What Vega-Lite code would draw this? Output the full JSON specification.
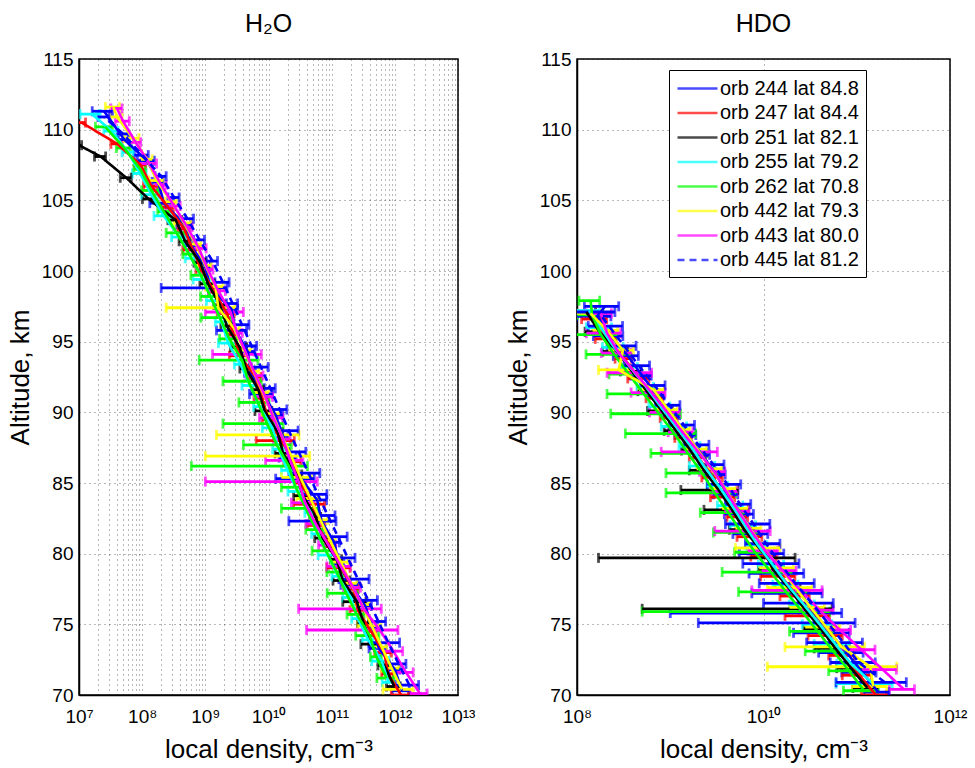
{
 "$schema": "https://vega.github.io/schema/vega-lite/v6.json",
 "background": "white",
 "padding": {"left": 6, "top": 11, "right": 5, "bottom": 0},
 "config": {
  "font": "Liberation Sans",
  "view": {"stroke": "black", "strokeWidth": 1.5},
  "axis": {"labelFont": "Liberation Sans", "labelFontSize": 19, "labelColor": "black", "titleFont": "Liberation Sans", "titleFontSize": 26, "titleFontWeight": "normal", "titleColor": "black", "domainColor": "black", "domainWidth": 1.5, "tickColor": "black", "gridColor": "black", "gridDash": [1, 4], "gridOpacity": 0.55, "labelOverlap": false, "labelFlush": false},
  "title": {"font": "Liberation Sans", "fontSize": 25, "fontWeight": "normal", "color": "black"},
  "concat": {"spacing": 28}
 },
 "datasets": {
  "h2o": [
   {"o":244,"a":70.3,"v":1.3e12,"e":3.9e11},{"o":244,"a":71.8,"v":1.0e12,"e":2.0e11},{"o":244,"a":73.3,"v":5.6e11,"e":1.7e11},{"o":244,"a":74.8,"v":4.4e11,"e":9e10},{"o":244,"a":76.3,"v":3.4e11,"e":8.5e10},{"o":244,"a":77.8,"v":2.0e11,"e":6e10},{"o":244,"a":79.3,"v":1.3e11,"e":2.6e10},{"o":244,"a":80.8,"v":1.1e11,"e":2.2e10},{"o":244,"a":82.3,"v":6.9e10,"e":4.8e10},{"o":244,"a":83.8,"v":5.9e10,"e":2.4e10},{"o":244,"a":85.3,"v":3.3e10,"e":2.0e10},{"o":244,"a":86.8,"v":2.1e10,"e":6.3e9},{"o":244,"a":88.3,"v":1.7e10,"e":3.4e9},{"o":244,"a":89.8,"v":1.3e10,"e":3.9e9},{"o":244,"a":91.3,"v":8.3e9,"e":3.3e9},{"o":244,"a":92.8,"v":5.2e9,"e":1.0e9},{"o":244,"a":94.3,"v":4.7e9,"e":1.4e9},{"o":244,"a":95.8,"v":3.0e9,"e":1.5e9},{"o":244,"a":97.3,"v":2.6e9,"e":6.5e8},{"o":244,"a":98.8,"v":1.2e9,"e":1.0e9},{"o":244,"a":100.3,"v":1.0e9,"e":2e8},{"o":244,"a":101.8,"v":5.9e8,"e":1.2e8},{"o":244,"a":103.3,"v":4.7e8,"e":1.2e8},{"o":244,"a":104.8,"v":2.2e8,"e":8.8e7},{"o":244,"a":106.3,"v":1.8e8,"e":3.6e7},{"o":244,"a":107.8,"v":1.2e8,"e":3.6e7},{"o":244,"a":109.3,"v":5.2e7,"e":1.0e7},{"o":244,"a":111.3,"v":2.5e7,"e":8.8e6},
   {"o":247,"a":70.0,"v":1.26e12,"e":3.8e11},{"o":247,"a":71.5,"v":7.8e11,"e":1.6e11},{"o":247,"a":73.0,"v":6.8e11,"e":2.0e11},{"o":247,"a":74.5,"v":4.2e11,"e":8.4e10},{"o":247,"a":76.0,"v":2.6e11,"e":6.5e10},{"o":247,"a":77.5,"v":2.2e11,"e":4.4e10},{"o":247,"a":79.0,"v":1.4e11,"e":5.6e10},{"o":247,"a":80.5,"v":9.5e10,"e":1.9e10},{"o":247,"a":82.0,"v":5.9e10,"e":1.8e10},{"o":247,"a":83.5,"v":5.1e10,"e":2.6e10},{"o":247,"a":85.0,"v":3.2e10,"e":6.4e9},{"o":247,"a":86.5,"v":2.5e10,"e":7.5e9},{"o":247,"a":88.0,"v":1.6e10,"e":9.6e9},{"o":247,"a":89.5,"v":1.0e10,"e":2.0e9},{"o":247,"a":91.0,"v":7.9e9,"e":2.0e9},{"o":247,"a":92.5,"v":6.3e9,"e":1.3e9},{"o":247,"a":94.0,"v":3.5e9,"e":1.1e9},{"o":247,"a":95.5,"v":2.8e9,"e":5.6e8},{"o":247,"a":97.0,"v":2.2e9,"e":6.6e8},{"o":247,"a":98.5,"v":1.4e9,"e":2.8e8},{"o":247,"a":100.0,"v":8.9e8,"e":1.8e8},{"o":247,"a":101.5,"v":6.3e8,"e":1.9e8},{"o":247,"a":103.0,"v":4.6e8,"e":9.2e7},{"o":247,"a":104.5,"v":2.6e8,"e":5.2e7},{"o":247,"a":106.0,"v":1.4e8,"e":3.5e7},{"o":247,"a":107.5,"v":9.5e7,"e":1.9e7},{"o":247,"a":109.0,"v":4.0e7,"e":8e6},{"o":247,"a":110.5,"v":1.1e7,"e":1.7e6},
   {"o":251,"a":70.6,"v":9.8e11,"e":2.4e11},{"o":251,"a":72.1,"v":6.8e11,"e":1.4e11},{"o":251,"a":73.6,"v":4.1e11,"e":1.2e11},{"o":251,"a":75.1,"v":3.2e11,"e":6.4e10},{"o":251,"a":76.6,"v":2.5e11,"e":1.0e11},{"o":251,"a":78.1,"v":1.5e11,"e":4.5e10},{"o":251,"a":79.6,"v":1.2e11,"e":2.4e10},{"o":251,"a":81.1,"v":7.2e10,"e":1.8e10},{"o":251,"a":82.6,"v":5.6e10,"e":1.1e10},{"o":251,"a":84.1,"v":3.5e10,"e":1.0e10},{"o":251,"a":85.6,"v":2.8e10,"e":5.6e9},{"o":251,"a":87.1,"v":1.7e10,"e":4.3e9},{"o":251,"a":88.6,"v":1.4e10,"e":2.8e9},{"o":251,"a":90.1,"v":8.7e9,"e":2.6e9},{"o":251,"a":91.6,"v":6.9e9,"e":1.4e9},{"o":251,"a":93.1,"v":4.4e9,"e":8.8e8},{"o":251,"a":94.6,"v":3.5e9,"e":1.0e9},{"o":251,"a":96.1,"v":2.2e9,"e":4.4e8},{"o":251,"a":97.6,"v":1.7e9,"e":3.4e8},{"o":251,"a":99.1,"v":1.1e9,"e":2.8e8},{"o":251,"a":100.6,"v":8.3e8,"e":1.7e8},{"o":251,"a":102.1,"v":4.8e8,"e":9.6e7},{"o":251,"a":103.6,"v":3.4e8,"e":8.5e7},{"o":251,"a":105.1,"v":1.26e8,"e":2.5e7},{"o":251,"a":106.6,"v":5.6e7,"e":1.1e7},{"o":251,"a":108.1,"v":2.2e7,"e":4.4e6},{"o":251,"a":108.9,"v":1.0e7,"e":1.0e6},
   {"o":255,"a":70.9,"v":7.9e11,"e":1.6e11},{"o":255,"a":72.4,"v":6.2e11,"e":1.9e11},{"o":255,"a":73.9,"v":3.8e11,"e":7.6e10},{"o":255,"a":75.4,"v":2.6e11,"e":5.2e10},{"o":255,"a":76.9,"v":2.0e11,"e":5.0e10},{"o":255,"a":78.4,"v":1.26e11,"e":2.5e10},{"o":255,"a":79.9,"v":8.7e10,"e":2.6e10},{"o":255,"a":81.4,"v":6.0e10,"e":1.2e10},{"o":255,"a":82.9,"v":4.7e10,"e":9.4e9},{"o":255,"a":84.4,"v":2.9e10,"e":8.7e9},{"o":255,"a":85.9,"v":2.0e10,"e":4.0e9},{"o":255,"a":87.4,"v":1.45e10,"e":2.9e9},{"o":255,"a":88.9,"v":1.15e10,"e":3.5e9},{"o":255,"a":90.4,"v":7.2e9,"e":1.4e9},{"o":255,"a":91.9,"v":5.1e9,"e":1.3e9},{"o":255,"a":93.4,"v":3.6e9,"e":7.2e8},{"o":255,"a":94.9,"v":2.3e9,"e":6.9e8},{"o":255,"a":96.4,"v":1.8e9,"e":3.6e8},{"o":255,"a":97.9,"v":1.3e9,"e":2.6e8},{"o":255,"a":99.4,"v":9.1e8,"e":2.7e8},{"o":255,"a":100.9,"v":6.0e8,"e":1.2e8},{"o":255,"a":102.4,"v":3.9e8,"e":9.8e7},{"o":255,"a":103.9,"v":2.2e8,"e":6.6e7},{"o":255,"a":105.4,"v":1.4e8,"e":4.2e7},{"o":255,"a":106.9,"v":9.3e7,"e":2.3e7},{"o":255,"a":108.4,"v":6.0e7,"e":1.2e7},{"o":255,"a":109.9,"v":3.3e7,"e":8.3e6},{"o":255,"a":111.1,"v":1.6e7,"e":5.6e6},
   {"o":262,"a":71.2,"v":7.4e11,"e":2.2e11},{"o":262,"a":72.7,"v":5.1e11,"e":1.0e11},{"o":262,"a":74.2,"v":4.0e11,"e":1.6e11},{"o":262,"a":75.7,"v":2.5e11,"e":7.5e10},{"o":262,"a":77.2,"v":1.7e11,"e":8.5e10},{"o":262,"a":78.7,"v":1.2e11,"e":3.6e10},{"o":262,"a":80.2,"v":8.1e10,"e":3.2e10},{"o":262,"a":81.7,"v":5.6e10,"e":1.7e10},{"o":262,"a":83.2,"v":3.9e10,"e":2.3e10},{"o":262,"a":84.7,"v":2.7e10,"e":1.1e10},{"o":262,"a":86.2,"v":2.1e10,"e":2.04e10},{"o":262,"a":87.7,"v":1.35e10,"e":9.5e9},{"o":262,"a":89.2,"v":9.5e9,"e":7.6e9},{"o":262,"a":90.7,"v":6.8e9,"e":3.4e9},{"o":262,"a":92.2,"v":4.8e9,"e":2.9e9},{"o":262,"a":93.7,"v":3.8e9,"e":3.0e9},{"o":262,"a":95.2,"v":2.4e9,"e":7.2e8},{"o":262,"a":96.7,"v":1.7e9,"e":8.5e8},{"o":262,"a":98.2,"v":1.2e9,"e":3.6e8},{"o":262,"a":99.7,"v":8.5e8,"e":2.6e8},{"o":262,"a":101.2,"v":5.5e8,"e":1.1e8},{"o":262,"a":102.7,"v":3.5e8,"e":1.1e8},{"o":262,"a":104.2,"v":2.2e8,"e":4.4e7},{"o":262,"a":105.7,"v":1.4e8,"e":4.2e7},{"o":262,"a":107.2,"v":9.3e7,"e":1.9e7},{"o":262,"a":108.7,"v":5.2e7,"e":1.3e7},{"o":262,"a":110.2,"v":2.6e7,"e":7.8e6},
   {"o":442,"a":70.4,"v":1.3e12,"e":6.5e11},{"o":442,"a":71.9,"v":8.9e11,"e":2.7e11},{"o":442,"a":73.4,"v":6.2e11,"e":1.2e11},{"o":442,"a":74.9,"v":4.3e11,"e":1.7e11},{"o":442,"a":76.4,"v":3.0e11,"e":9e10},{"o":442,"a":77.9,"v":2.0e11,"e":5e10},{"o":442,"a":79.4,"v":1.4e11,"e":4.2e10},{"o":442,"a":80.9,"v":9.5e10,"e":1.9e10},{"o":442,"a":82.4,"v":6.6e10,"e":2.0e10},{"o":442,"a":83.9,"v":4.6e10,"e":1.8e10},{"o":442,"a":85.4,"v":3.2e10,"e":1.6e10},{"o":442,"a":86.9,"v":2.3e10,"e":2.2e10},{"o":442,"a":88.4,"v":1.6e10,"e":1.45e10},{"o":442,"a":89.9,"v":1.15e10,"e":3.5e9},{"o":442,"a":91.4,"v":8.1e9,"e":2.0e9},{"o":442,"a":92.9,"v":5.8e9,"e":1.2e9},{"o":442,"a":94.4,"v":4.1e9,"e":1.2e9},{"o":442,"a":95.9,"v":2.9e9,"e":5.8e8},{"o":442,"a":97.4,"v":1.6e9,"e":1.36e9},{"o":442,"a":98.9,"v":1.45e9,"e":4.4e8},{"o":442,"a":100.4,"v":1.0e9,"e":2.5e8},{"o":442,"a":101.9,"v":7.1e8,"e":1.4e8},{"o":442,"a":103.4,"v":4.6e8,"e":1.4e8},{"o":442,"a":104.9,"v":2.9e8,"e":5.8e7},{"o":442,"a":106.4,"v":1.7e8,"e":4.3e7},{"o":442,"a":107.9,"v":1.2e8,"e":2.4e7},{"o":442,"a":109.4,"v":7.1e7,"e":1.8e7},{"o":442,"a":110.9,"v":4.0e7,"e":8e6},{"o":442,"a":111.6,"v":3.5e7,"e":8.8e6},
   {"o":443,"a":70.1,"v":2.5e12,"e":7.5e11},{"o":443,"a":71.6,"v":1.5e12,"e":4.5e11},{"o":443,"a":73.1,"v":9.5e11,"e":3.8e11},{"o":443,"a":74.6,"v":5.8e11,"e":5.4e11},{"o":443,"a":76.1,"v":3.2e11,"e":2.9e11},{"o":443,"a":77.6,"v":2.2e11,"e":6.6e10},{"o":443,"a":79.1,"v":1.4e11,"e":5.6e10},{"o":443,"a":80.6,"v":8.9e10,"e":2.7e10},{"o":443,"a":82.1,"v":5.6e10,"e":1.7e10},{"o":443,"a":83.6,"v":3.8e10,"e":1.5e10},{"o":443,"a":85.1,"v":3.0e10,"e":2.9e10},{"o":443,"a":86.6,"v":2.2e10,"e":1.3e10},{"o":443,"a":88.1,"v":1.7e10,"e":5e9},{"o":443,"a":89.6,"v":1.2e10,"e":4.8e9},{"o":443,"a":91.1,"v":8.9e9,"e":2.7e9},{"o":443,"a":92.6,"v":6.3e9,"e":1.9e9},{"o":443,"a":94.1,"v":4.5e9,"e":3.2e9},{"o":443,"a":95.6,"v":3.2e9,"e":6.4e8},{"o":443,"a":97.1,"v":2.5e9,"e":1.5e9},{"o":443,"a":98.6,"v":1.6e9,"e":4.8e8},{"o":443,"a":100.1,"v":1.1e9,"e":2.2e8},{"o":443,"a":101.6,"v":7.9e8,"e":2.4e8},{"o":443,"a":103.1,"v":5.2e8,"e":1.0e8},{"o":443,"a":104.6,"v":3.2e8,"e":8e7},{"o":443,"a":106.1,"v":2.0e8,"e":4e7},{"o":443,"a":107.6,"v":1.3e8,"e":3.9e7},{"o":443,"a":109.1,"v":7.9e7,"e":1.6e7},{"o":443,"a":110.6,"v":5.0e7,"e":1.25e7},{"o":443,"a":111.5,"v":4.0e7,"e":8e6},
   {"o":445,"a":70.7,"v":1.7e12,"e":6.8e11},{"o":445,"a":72.2,"v":1.15e12,"e":3.5e11},{"o":445,"a":73.7,"v":7.9e11,"e":4.0e11},{"o":445,"a":75.2,"v":5.5e11,"e":1.65e11},{"o":445,"a":76.7,"v":3.8e11,"e":1.5e11},{"o":445,"a":78.2,"v":2.6e11,"e":1.3e11},{"o":445,"a":79.7,"v":1.8e11,"e":5.4e10},{"o":445,"a":81.2,"v":1.26e11,"e":5.0e10},{"o":445,"a":82.7,"v":8.7e10,"e":2.6e10},{"o":445,"a":84.2,"v":6.0e10,"e":2.4e10},{"o":445,"a":85.7,"v":4.3e10,"e":2.2e10},{"o":445,"a":87.2,"v":3.0e10,"e":9e9},{"o":445,"a":88.7,"v":2.1e10,"e":8.4e9},{"o":445,"a":90.2,"v":1.5e10,"e":4.5e9},{"o":445,"a":91.7,"v":1.07e10,"e":2.1e9},{"o":445,"a":93.2,"v":7.6e9,"e":2.3e9},{"o":445,"a":94.7,"v":5.4e9,"e":1.1e9},{"o":445,"a":96.2,"v":3.8e9,"e":1.1e9},{"o":445,"a":97.7,"v":2.7e9,"e":5.4e8},{"o":445,"a":99.2,"v":1.9e9,"e":4.8e8},{"o":445,"a":100.7,"v":1.3e9,"e":2.6e8},{"o":445,"a":102.2,"v":8.1e8,"e":1.6e8},{"o":445,"a":103.7,"v":5.2e8,"e":1.3e8},{"o":445,"a":105.2,"v":3.2e8,"e":6.4e7},{"o":445,"a":106.7,"v":2.0e8,"e":4e7},{"o":445,"a":108.2,"v":1.0e8,"e":2.5e7},{"o":445,"a":109.7,"v":5.0e7,"e":1.0e7},{"o":445,"a":110.9,"v":2.5e7,"e":5e6}
  ],
  "hdo": [
   {"o":244,"a":70.2,"v":1.7e11,"e":5.1e10},{"o":244,"a":71.6,"v":1.15e11,"e":4.6e10},{"o":244,"a":73.0,"v":7.8e10,"e":3.9e10},{"o":244,"a":74.4,"v":5.2e10,"e":3.1e10},{"o":244,"a":75.8,"v":3.5e10,"e":3.4e10},{"o":244,"a":77.2,"v":2.5e10,"e":1.75e10},{"o":244,"a":78.6,"v":1.7e10,"e":1.0e10},{"o":244,"a":80.0,"v":1.1e10,"e":5.5e9},{"o":244,"a":81.4,"v":7.9e9,"e":3.2e9},{"o":244,"a":82.8,"v":5.8e9,"e":2.0e9},{"o":244,"a":84.2,"v":4.1e9,"e":1.2e9},{"o":244,"a":85.6,"v":3.1e9,"e":7.8e8},{"o":244,"a":87.0,"v":2.2e9,"e":4.4e8},{"o":244,"a":88.4,"v":1.5e9,"e":3.8e8},{"o":244,"a":89.8,"v":1.05e9,"e":2.1e8},{"o":244,"a":91.2,"v":7.2e8,"e":1.4e8},{"o":244,"a":92.6,"v":5.0e8,"e":1.25e8},{"o":244,"a":94.0,"v":3.5e8,"e":1.05e8},{"o":244,"a":95.4,"v":2.3e8,"e":8e7},{"o":244,"a":96.8,"v":1.65e8,"e":6.6e7},{"o":244,"a":97.5,"v":2.0e8,"e":8e7},
   {"o":247,"a":70.0,"v":1.6e11,"e":4.8e10},{"o":247,"a":71.4,"v":1.07e11,"e":3.7e10},{"o":247,"a":72.8,"v":7.2e10,"e":2.2e10},{"o":247,"a":74.2,"v":5.0e10,"e":2.0e10},{"o":247,"a":75.6,"v":3.4e10,"e":1.7e10},{"o":247,"a":77.0,"v":2.3e10,"e":8e9},{"o":247,"a":78.4,"v":1.55e10,"e":6.2e9},{"o":247,"a":79.8,"v":1.05e10,"e":3.2e9},{"o":247,"a":81.2,"v":7.4e9,"e":2.2e9},{"o":247,"a":82.6,"v":5.4e9,"e":1.35e9},{"o":247,"a":84.0,"v":3.8e9,"e":1.1e9},{"o":247,"a":85.4,"v":2.9e9,"e":7.2e8},{"o":247,"a":86.8,"v":2.0e9,"e":4e8},{"o":247,"a":88.2,"v":1.4e9,"e":2.8e8},{"o":247,"a":89.6,"v":9.8e8,"e":2.0e8},{"o":247,"a":91.0,"v":6.9e8,"e":1.4e8},{"o":247,"a":92.4,"v":4.7e8,"e":1.2e8},{"o":247,"a":93.8,"v":3.2e8,"e":6.4e7},{"o":247,"a":95.2,"v":2.1e8,"e":5.3e7},{"o":247,"a":96.6,"v":1.6e8,"e":4.8e7},
   {"o":251,"a":70.5,"v":1.3e11,"e":3.9e10},{"o":251,"a":71.9,"v":8.7e10,"e":2.6e10},{"o":251,"a":73.3,"v":5.9e10,"e":2.4e10},{"o":251,"a":74.7,"v":4.1e10,"e":1.4e10},{"o":251,"a":76.1,"v":2.75e10,"e":2.7e10},{"o":251,"a":77.5,"v":1.9e10,"e":5.7e9},{"o":251,"a":78.9,"v":1.26e10,"e":3.8e9},{"o":251,"a":79.7,"v":1.1e10,"e":1.083e10},{"o":251,"a":81.7,"v":6.2e9,"e":1.9e9},{"o":251,"a":83.1,"v":4.6e9,"e":2.3e9},{"o":251,"a":84.5,"v":3.3e9,"e":2.0e9},{"o":251,"a":85.9,"v":2.3e9,"e":7e8},{"o":251,"a":87.3,"v":1.65e9,"e":3.3e8},{"o":251,"a":88.7,"v":1.15e9,"e":2.9e8},{"o":251,"a":90.1,"v":8.1e8,"e":2.4e8},{"o":251,"a":91.5,"v":5.6e8,"e":1.1e8},{"o":251,"a":92.9,"v":3.9e8,"e":9.8e7},{"o":251,"a":94.3,"v":2.7e8,"e":8.1e7},{"o":251,"a":95.7,"v":1.74e8,"e":5.2e7},{"o":251,"a":97.1,"v":1.26e8,"e":3.2e7},
   {"o":255,"a":70.8,"v":1.5e11,"e":9e10},{"o":255,"a":72.2,"v":8.7e10,"e":2.6e10},{"o":255,"a":73.6,"v":5.9e10,"e":2.4e10},{"o":255,"a":75.0,"v":4.0e10,"e":1.4e10},{"o":255,"a":76.4,"v":2.7e10,"e":8.1e9},{"o":255,"a":77.8,"v":1.8e10,"e":5.4e9},{"o":255,"a":79.2,"v":1.26e10,"e":3.8e9},{"o":255,"a":80.6,"v":8.7e9,"e":2.2e9},{"o":255,"a":82.0,"v":6.3e9,"e":1.9e9},{"o":255,"a":83.4,"v":4.6e9,"e":1.4e9},{"o":255,"a":84.8,"v":3.3e9,"e":8.3e8},{"o":255,"a":86.2,"v":2.3e9,"e":7e8},{"o":255,"a":87.6,"v":1.66e9,"e":4.2e8},{"o":255,"a":89.0,"v":1.15e9,"e":3.5e8},{"o":255,"a":90.4,"v":7.9e8,"e":2.0e8},{"o":255,"a":91.8,"v":5.5e8,"e":1.1e8},{"o":255,"a":93.2,"v":3.7e8,"e":7.4e7},{"o":255,"a":94.6,"v":2.5e8,"e":6.3e7},{"o":255,"a":96.0,"v":1.8e8,"e":5.4e7},{"o":255,"a":97.2,"v":1.35e8,"e":4e7},
   {"o":262,"a":70.3,"v":1.2e11,"e":4.8e10},{"o":262,"a":71.7,"v":8.3e10,"e":3.3e10},{"o":262,"a":73.1,"v":5.6e10,"e":2.8e10},{"o":262,"a":74.5,"v":3.8e10,"e":1.9e10},{"o":262,"a":75.9,"v":2.6e10,"e":2.55e10},{"o":262,"a":77.3,"v":1.74e10,"e":1.2e10},{"o":262,"a":78.7,"v":1.2e10,"e":8.4e9},{"o":262,"a":80.1,"v":8.1e9,"e":3.2e9},{"o":262,"a":81.5,"v":5.8e9,"e":2.9e9},{"o":262,"a":82.9,"v":4.2e9,"e":2.1e9},{"o":262,"a":84.3,"v":3.0e9,"e":2.1e9},{"o":262,"a":85.7,"v":2.2e9,"e":1.3e9},{"o":262,"a":87.1,"v":1.55e9,"e":9.3e8},{"o":262,"a":88.5,"v":1.1e9,"e":7.7e8},{"o":262,"a":89.9,"v":7.6e8,"e":5.3e8},{"o":262,"a":91.3,"v":5.2e8,"e":3.1e8},{"o":262,"a":92.7,"v":3.6e8,"e":1.4e8},{"o":262,"a":94.1,"v":2.5e8,"e":1.25e8},{"o":262,"a":95.5,"v":1.8e8,"e":9e7},{"o":262,"a":96.9,"v":1.45e8,"e":4.4e7},{"o":262,"a":97.9,"v":1.4e8,"e":3.5e7},
   {"o":442,"a":70.6,"v":1.5e11,"e":6e10},{"o":442,"a":72.0,"v":1.4e11,"e":1.29e11},{"o":442,"a":73.4,"v":6.9e10,"e":5.2e10},{"o":442,"a":74.8,"v":4.7e10,"e":1.9e10},{"o":442,"a":76.2,"v":3.2e10,"e":1.3e10},{"o":442,"a":77.6,"v":2.2e10,"e":1.1e10},{"o":442,"a":79.0,"v":1.5e10,"e":6e9},{"o":442,"a":80.4,"v":1.0e10,"e":5e9},{"o":442,"a":81.8,"v":7.2e9,"e":2.2e9},{"o":442,"a":83.2,"v":5.2e9,"e":1.6e9},{"o":442,"a":84.6,"v":3.9e9,"e":1.2e9},{"o":442,"a":86.0,"v":2.75e9,"e":8.3e8},{"o":442,"a":87.4,"v":1.95e9,"e":4.9e8},{"o":442,"a":88.8,"v":1.35e9,"e":2.7e8},{"o":442,"a":90.2,"v":9.5e8,"e":2.4e8},{"o":442,"a":91.6,"v":6.6e8,"e":2.0e8},{"o":442,"a":93.0,"v":2.8e8,"e":1.1e8},{"o":442,"a":94.4,"v":3.1e8,"e":9.3e7},{"o":442,"a":95.8,"v":2.1e8,"e":6.3e7},{"o":442,"a":97.0,"v":1.4e8,"e":4.2e7},
   {"o":443,"a":70.4,"v":3.2e11,"e":9.6e10},{"o":443,"a":71.8,"v":1.9e11,"e":7.6e10},{"o":443,"a":73.2,"v":1.12e11,"e":4.5e10},{"o":443,"a":74.6,"v":6.6e10,"e":2.0e10},{"o":443,"a":76.0,"v":4.0e10,"e":1.6e10},{"o":443,"a":77.4,"v":2.5e10,"e":1.75e10},{"o":443,"a":78.8,"v":1.6e10,"e":6.4e9},{"o":443,"a":80.2,"v":1.05e10,"e":3.7e9},{"o":443,"a":81.6,"v":7.4e9,"e":4.4e9},{"o":443,"a":83.0,"v":5.4e9,"e":1.6e9},{"o":443,"a":84.4,"v":4.0e9,"e":1.2e9},{"o":443,"a":85.8,"v":2.95e9,"e":8.9e8},{"o":443,"a":87.2,"v":2.0e9,"e":1.2e9},{"o":443,"a":88.6,"v":1.35e9,"e":4e8},{"o":443,"a":90.0,"v":9.3e8,"e":3.3e8},{"o":443,"a":91.4,"v":6.3e8,"e":2.5e8},{"o":443,"a":92.8,"v":4.2e8,"e":2.1e8},{"o":443,"a":94.2,"v":2.8e8,"e":9.8e7},{"o":443,"a":95.6,"v":2.1e8,"e":8.4e7},{"o":443,"a":97.0,"v":1.8e8,"e":5.4e7},
   {"o":445,"a":70.9,"v":2.0e11,"e":1.4e11},{"o":445,"a":72.3,"v":1.05e11,"e":5.3e10},{"o":445,"a":73.7,"v":7.2e10,"e":4.3e10},{"o":445,"a":75.1,"v":4.9e10,"e":4.7e10},{"o":445,"a":76.5,"v":3.3e10,"e":2.3e10},{"o":445,"a":77.9,"v":2.2e10,"e":1.3e10},{"o":445,"a":79.3,"v":1.5e10,"e":9e9},{"o":445,"a":80.7,"v":1.07e10,"e":4.3e9},{"o":445,"a":82.1,"v":7.8e9,"e":3.9e9},{"o":445,"a":83.5,"v":5.6e9,"e":1.7e9},{"o":445,"a":84.9,"v":4.1e9,"e":1.6e9},{"o":445,"a":86.3,"v":2.9e9,"e":8.7e8},{"o":445,"a":87.7,"v":2.0e9,"e":6e8},{"o":445,"a":89.1,"v":1.4e9,"e":4.2e8},{"o":445,"a":90.5,"v":9.8e8,"e":2.9e8},{"o":445,"a":91.9,"v":6.8e8,"e":2.0e8},{"o":445,"a":93.3,"v":4.6e8,"e":1.4e8},{"o":445,"a":94.7,"v":3.2e8,"e":1.1e8},{"o":445,"a":96.1,"v":2.2e8,"e":8.8e7},{"o":445,"a":97.1,"v":1.7e8,"e":8.5e7}
  ]
 },
 "hconcat": [
  {
   "width": 379, "height": 636,
   "title": {"text": "H₂O", "offset": 13},
   "data": {"name": "h2o"},
   "encoding": {
    "y": {"field": "a", "type": "quantitative", "scale": {"domain": [70, 115], "nice": false, "zero": false}, "axis": {"title": "Altitude, km", "values": [70,75,80,85,90,95,100,105,110,115], "grid": true, "ticks": false, "labelPadding": 6, "titlePadding": 8}},
    "color": {"field": "o", "type": "nominal", "scale": {"domain": [244,247,251,255,262,442,443,445], "range": ["#0000ff","#ff0000","#000000","#00ffff","#00ff00","#ffff00","#ff00ff","#0000ff"]}, "legend": null}
   },
   "layer": [
    {"mark": {"type": "errorbar", "ticks": {"size": 10, "thickness": 2.8}, "rule": {"strokeWidth": 2.8}, "clip": true},
     "encoding": {
      "x": {"field": "v", "type": "quantitative", "scale": {"type": "log", "domain": [1e7, 1e13], "nice": false}, "axis": {"title": "local density, cm⁻³", "values": [1e7,2e7,3e7,4e7,5e7,6e7,7e7,8e7,9e7,1e8,2e8,3e8,4e8,5e8,6e8,7e8,8e8,9e8,1e9,2e9,3e9,4e9,5e9,6e9,7e9,8e9,9e9,1e10,2e10,3e10,4e10,5e10,6e10,7e10,8e10,9e10,1e11,2e11,3e11,4e11,5e11,6e11,7e11,8e11,9e11,1e12,2e12,3e12,4e12,5e12,6e12,7e12,8e12,9e12,1e13], "labelExpr": "abs(log(datum.value)/LN10 - round(log(datum.value)/LN10)) < 0.01 ? '10' + ['⁷','⁸','⁹','¹⁰','¹¹','¹²','¹³'][round(log(datum.value)/LN10) - 7] : ''", "grid": true, "ticks": false, "labelPadding": 12, "titlePadding": 10}},
      "xError": {"field": "e"}
     }},
    {"mark": {"type": "line", "strokeWidth": 2.6, "clip": true},
     "encoding": {
      "x": {"field": "v", "type": "quantitative"},
      "order": {"field": "a"},
      "strokeDash": {"field": "o", "type": "nominal", "scale": {"domain": [244,247,251,255,262,442,443,445], "range": [[1,0],[1,0],[1,0],[1,0],[1,0],[1,0],[1,0],[7,5]]}, "legend": null}
     }}
   ]
  },
  {
   "width": 373, "height": 636,
   "title": {"text": "HDO", "offset": 13},
   "data": {"name": "hdo"},
   "encoding": {
    "y": {"field": "a", "type": "quantitative", "scale": {"domain": [70, 115], "nice": false, "zero": false}, "axis": {"title": "Altitude, km", "values": [70,75,80,85,90,95,100,105,110,115], "grid": true, "ticks": false, "labelPadding": 6, "titlePadding": 8}},
    "color": {"field": "o", "type": "nominal", "scale": {"domain": [244,247,251,255,262,442,443,445], "range": ["#0000ff","#ff0000","#000000","#00ffff","#00ff00","#ffff00","#ff00ff","#0000ff"]}, "legend": {"title": null, "orient": "none", "legendX": 92, "legendY": 11, "symbolType": "M-1,0H3", "symbolSize": 400, "symbolStrokeWidth": 2.5, "labelOffset": 21, "labelFont": "Liberation Sans", "labelFontSize": 20, "labelColor": "black", "strokeColor": "black", "fillColor": "white", "padding": 7, "rowPadding": 2.5, "labelExpr": "'orb ' + datum.label + ' lat ' + (datum.label=='244'?'84.8':datum.label=='247'?'84.4':datum.label=='251'?'82.1':datum.label=='255'?'79.2':datum.label=='262'?'70.8':datum.label=='442'?'79.3':datum.label=='443'?'80.0':'81.2')"}}
   },
   "layer": [
    {"mark": {"type": "errorbar", "ticks": {"size": 10, "thickness": 2.8}, "rule": {"strokeWidth": 2.8}, "clip": true},
     "encoding": {
      "x": {"field": "v", "type": "quantitative", "scale": {"type": "log", "domain": [1e8, 1e12], "nice": false}, "axis": {"title": "local density, cm⁻³", "values": [1e8, 1e10, 1e12], "labelExpr": "'10' + ['⁸','⁹','¹⁰','¹¹','¹²'][round(log(datum.value)/LN10) - 8]", "grid": true, "ticks": false, "labelPadding": 12, "titlePadding": 10}},
      "xError": {"field": "e"}
     }},
    {"mark": {"type": "line", "strokeWidth": 2.6, "clip": true},
     "encoding": {
      "x": {"field": "v", "type": "quantitative"},
      "order": {"field": "a"},
      "strokeDash": {"field": "o", "type": "nominal", "scale": {"domain": [244,247,251,255,262,442,443,445], "range": [[1,0],[1,0],[1,0],[1,0],[1,0],[1,0],[1,0],[7,5]]}, "legend": {"title": null, "orient": "none", "legendX": 92, "legendY": 11, "symbolType": "M-1,0H3", "symbolSize": 400, "symbolStrokeWidth": 2.5, "labelOffset": 21, "labelFont": "Liberation Sans", "labelFontSize": 20, "labelColor": "black", "strokeColor": "black", "fillColor": "white", "padding": 7, "rowPadding": 2.5, "labelExpr": "'orb ' + datum.label + ' lat ' + (datum.label=='244'?'84.8':datum.label=='247'?'84.4':datum.label=='251'?'82.1':datum.label=='255'?'79.2':datum.label=='262'?'70.8':datum.label=='442'?'79.3':datum.label=='443'?'80.0':'81.2')"}}
     }}
   ]
  }
 ],
 "resolve": {"scale": {"x": "independent", "y": "independent", "color": "independent", "strokeDash": "independent"}, "legend": {"color": "independent", "strokeDash": "independent"}}
}
